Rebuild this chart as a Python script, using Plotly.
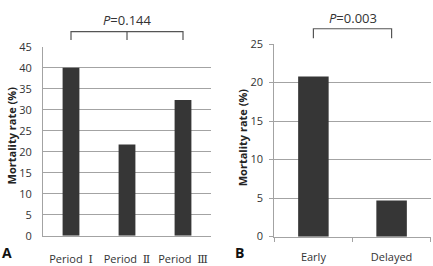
import plotly.graph_objects as go

periods = ["Period Ⅰ", "Period Ⅱ", "Period Ⅲ"]
period_mortality = [40.0, 21.7, 32.3]
timing = ["Early", "Delayed"]
timing_mortality = [20.8, 4.7]
p_values = ["0.144", "0.003"]
panel_labels = ["A", "B"]
y_title = "Mortality rate (%)"

FONT = "Open Sans, Noto Sans CJK KR, sans-serif"
BAR = "#363636"
GRID = "#a3a3a3"
TXT = "#333333"

def styled(label):
    word, num = label.split(" ")
    return (f"<span style='font-family:Open Sans'>{word}  </span>"
            f"<span style='font-family:DejaVu Serif;font-size:11px'>{num}</span>")

fig = go.Figure()
fig.add_trace(go.Bar(x=periods, y=period_mortality, marker=dict(color=BAR, line=dict(width=0)),
                     xaxis="x", yaxis="y", showlegend=False))
fig.add_trace(go.Bar(x=timing, y=timing_mortality, width=0.39,
                     marker=dict(color=BAR, line=dict(width=0)),
                     xaxis="x2", yaxis="y2", showlegend=False))

W, H = 433, 266
def px(x):
    return x / W
def py(y):
    return (H - y) / H

fig.update_layout(
    width=W, height=H, margin=dict(l=0, r=0, t=0, b=0),
    paper_bgcolor="white", plot_bgcolor="white",
    font=dict(family=FONT, size=11, color=TXT),
    bargap=0.70,
    xaxis=dict(domain=[px(43), px(211)], anchor="y", showgrid=False, showline=True,
               linecolor=GRID, linewidth=1, ticks="", ticklabelstandoff=13,
               tickvals=periods, ticktext=[styled(p) for p in periods],
               tickfont=dict(size=11, color=TXT), fixedrange=True),
    yaxis=dict(domain=[py(241.3), py(41)], anchor="x", range=[0, 45], dtick=5,
               showgrid=True, gridcolor=GRID, gridwidth=1, showline=True, linecolor=GRID,
               ticks="", ticklabelstandoff=8, zeroline=False,
               tickfont=dict(size=11, color=TXT)),
    xaxis2=dict(domain=[px(274.3), px(430.7)], anchor="y2", showgrid=False, showline=True,
                linecolor=GRID, linewidth=1, ticks="outside", ticklen=4, tickcolor=GRID,
                tickson="boundaries", ticklabelstandoff=10,
                tickfont=dict(size=11, color=TXT)),
    yaxis2=dict(domain=[py(242.3), py(38.3)], anchor="x2", range=[0, 25], dtick=5,
                showgrid=True, gridcolor=GRID, gridwidth=1, showline=True, linecolor=GRID,
                ticks="outside", ticklen=4, tickcolor=GRID, ticklabelstandoff=4, zeroline=False,
                tickfont=dict(size=11, color=TXT)),
)

shapes = []
line = dict(color="#555555", width=1.2)
# bracket A
top_a, bot_a = py(25), py(34)
shapes.append(dict(type="path", xref="x", yref="paper",
                   path=f"M 0,{bot_a} L 0,{top_a} L 2,{top_a} L 2,{bot_a}", line=line))
shapes.append(dict(type="line", xref="x", yref="paper", x0=1, x1=1, y0=top_a, y1=bot_a, line=line))
# bracket B
top_b, bot_b = py(22), py(32)
shapes.append(dict(type="path", xref="x2", yref="paper",
                   path=f"M 0,{bot_b} L 0,{top_b} L 1,{top_b} L 1,{bot_b}", line=line))
fig.update_layout(shapes=shapes)

ann = []
ann.append(dict(x=1, xref="x", y=py(13), yref="paper", text=f"<i>P</i>={p_values[0]}",
                showarrow=False, xanchor="center", yanchor="middle",
                font=dict(size=13, color=TXT, family=FONT)))
ann.append(dict(x=0.5, xref="x2", y=py(11), yref="paper", text=f"<i>P</i>={p_values[1]}",
                showarrow=False, xanchor="center", yanchor="middle",
                font=dict(size=13, color=TXT, family=FONT)))
ann.append(dict(x=px(11), xref="paper", y=py(135), yref="paper", text=f"<b>{y_title}</b>",
                textangle=-90, showarrow=False, xanchor="center", yanchor="middle",
                font=dict(size=11, color="#222222", family=FONT)))
ann.append(dict(x=px(242), xref="paper", y=py(137), yref="paper", text=f"<b>{y_title}</b>",
                textangle=-90, showarrow=False, xanchor="center", yanchor="middle",
                font=dict(size=11, color="#222222", family=FONT)))
ann.append(dict(x=px(7), xref="paper", y=py(259), yref="paper", text=f"<b>{panel_labels[0]}</b>",
                showarrow=False, xanchor="center", yanchor="middle",
                font=dict(size=14, color="#111111", family=FONT)))
ann.append(dict(x=px(240), xref="paper", y=py(259), yref="paper", text=f"<b>{panel_labels[1]}</b>",
                showarrow=False, xanchor="center", yanchor="middle",
                font=dict(size=14, color="#111111", family=FONT)))
fig.update_layout(annotations=ann)

fig.write_html("out.html", config={"displayModeBar": False})
